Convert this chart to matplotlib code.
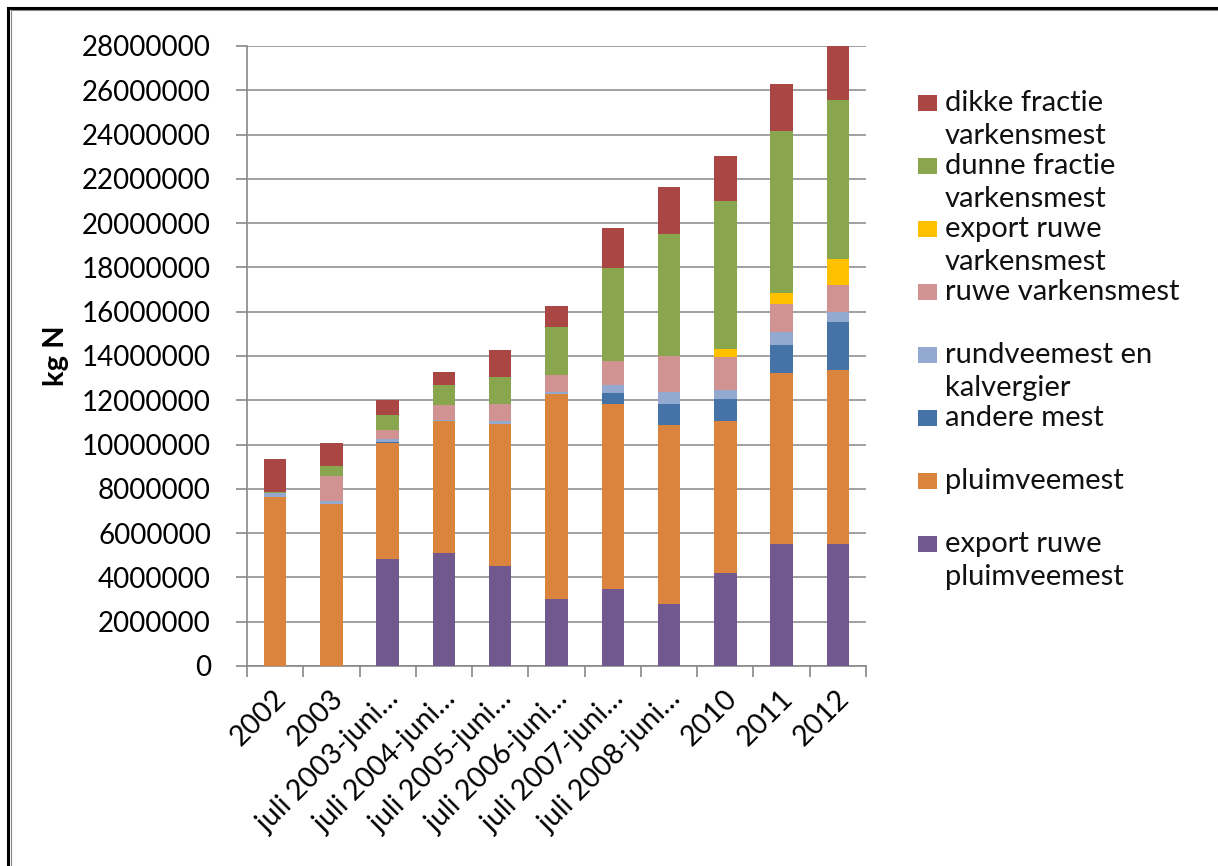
import matplotlib
matplotlib.use("Agg")
import matplotlib.pyplot as plt
import matplotlib.transforms as mtransforms
import numpy as np
from matplotlib.lines import Line2D
from matplotlib.patches import Rectangle
from matplotlib.ticker import FuncFormatter, FixedLocator

plt.rcParams['font.family'] = ['Lato', 'DejaVu Sans']

categories = ["2002", "2003", "juli 2003-juni…", "juli 2004-juni…", "juli 2005-juni…",
              "juli 2006-juni…", "juli 2007-juni…", "juli 2008-juni…", "2010", "2011", "2012"]

# values in kg N (bottom to top of the stack)
export_ruwe_pluimveemest = [0, 0, 4820000, 5090000, 4520000, 3010000, 3480000, 2800000, 4200000, 5510000, 5510000]
pluimveemest = [7650000, 7300000, 5250000, 5980000, 6420000, 9280000, 8340000, 8080000, 6870000, 7700000, 7870000]
andere_mest = [0, 0, 60000, 0, 0, 0, 520000, 940000, 980000, 1290000, 2170000]
rundveemest_kalvergier = [150000, 170000, 100000, 60000, 110000, 100000, 340000, 570000, 400000, 570000, 450000]
ruwe_varkensmest = [20000, 1100000, 420000, 650000, 770000, 750000, 1100000, 1630000, 1510000, 1260000, 1200000]
export_ruwe_varkensmest = [0, 0, 0, 0, 0, 0, 0, 0, 340000, 530000, 1180000]
dunne_fractie = [50000, 460000, 690000, 920000, 1230000, 2160000, 4180000, 5490000, 6720000, 7300000, 7180000]
dikke_fractie = [1500000, 1060000, 690000, 590000, 1220000, 970000, 1810000, 2110000, 2020000, 2140000, 2440000]

series = [export_ruwe_pluimveemest, pluimveemest, andere_mest, rundveemest_kalvergier,
          ruwe_varkensmest, export_ruwe_varkensmest, dunne_fractie, dikke_fractie]
labels = ["export ruwe\npluimveemest", "pluimveemest", "andere mest", "rundveemest en\nkalvergier",
          "ruwe varkensmest", "export ruwe\nvarkensmest", "dunne fractie\nvarkensmest",
          "dikke fractie\nvarkensmest"]
colors = ["#71588F", "#DB843D", "#4572A7", "#93A9CF", "#D19392", "#FFC000", "#89A54E", "#AA4643"]

W, H = 1218, 866
fig = plt.figure(figsize=(W / 100, H / 100), dpi=100)
ax = fig.add_axes([247 / W, 1 - 666 / H, (866 - 247) / W, (666 - 46) / H])

x = np.arange(len(categories))
bottom = np.zeros(len(categories))
for vals, lab, col in zip(series, labels, colors):
    v = np.array(vals, dtype=float)
    ax.bar(x, v, width=0.4, bottom=bottom, color=col, label=lab, linewidth=0, zorder=3)
    bottom += v

ax.set_xlim(-0.5, len(categories) - 0.5)
ax.set_ylim(0, 28000000)
ax.set_yticks(np.arange(0, 28000001, 2000000))
ax.yaxis.set_major_formatter(FuncFormatter(lambda v, p: f"{int(v)}"))
ax.grid(axis='y', color='#9a9a9a', linewidth=1.3, zorder=0)
ax.set_axisbelow(True)

ax.set_xticks(x)
ax.set_xticklabels(categories, rotation=45, ha='right', rotation_mode='anchor', fontsize=20.5)
ax.xaxis.set_minor_locator(FixedLocator(np.arange(-0.5, len(categories), 1.0)))
ax.tick_params(axis='x', which='major', length=0, pad=14)
ax.tick_params(axis='x', which='minor', length=8, width=1.2, color='#888888')
ax.tick_params(axis='y', length=8, width=1.2, color='#888888', labelsize=20, pad=18)
shift = mtransforms.ScaledTranslation(-2 / 100, 0, fig.dpi_scale_trans)
for lbl in ax.get_xticklabels():
    lbl.set_transform(lbl.get_transform() + shift)

for s in ['top', 'right']:
    ax.spines[s].set_visible(False)
for s in ['left', 'bottom']:
    ax.spines[s].set_color('#888888')
    ax.spines[s].set_linewidth(1.2)

ax.set_ylabel("kg N", fontsize=21, fontweight='bold', labelpad=9)

# legend (Excel-style, top entry = top of stack)
for i, (lab, col) in enumerate(zip(labels[::-1], colors[::-1])):
    yc = 103 + 63 * i
    fig.add_artist(Rectangle((918 / W, 1 - (yc + 8) / H), 19 / W, 16 / H,
                             transform=fig.transFigure, facecolor=col, edgecolor='none'))
    for j, line in enumerate(lab.split("\n")):
        fig.text(945 / W, 1 - (yc + 33 * j) / H, line, fontsize=21, va='center', ha='left',
                 color='#111111')

# frame edges (top and left)
fig.add_artist(Line2D([8 / W, 1], [1 - 7.5 / H, 1 - 7.5 / H], transform=fig.transFigure,
                      color='black', linewidth=2.2))
fig.add_artist(Line2D([8 / W, 8 / W], [0, 1 - 7.5 / H], transform=fig.transFigure,
                      color='black', linewidth=2.2))
fig.add_artist(Line2D([10.5 / W, 10.5 / W], [0, 1 - 9.5 / H], transform=fig.transFigure,
                      color='#888888', linewidth=0.8))
fig.add_artist(Line2D([10.5 / W, 1], [1 - 9.5 / H, 1 - 9.5 / H], transform=fig.transFigure,
                      color='#888888', linewidth=0.8))

fig.savefig("out.png", dpi=100)
